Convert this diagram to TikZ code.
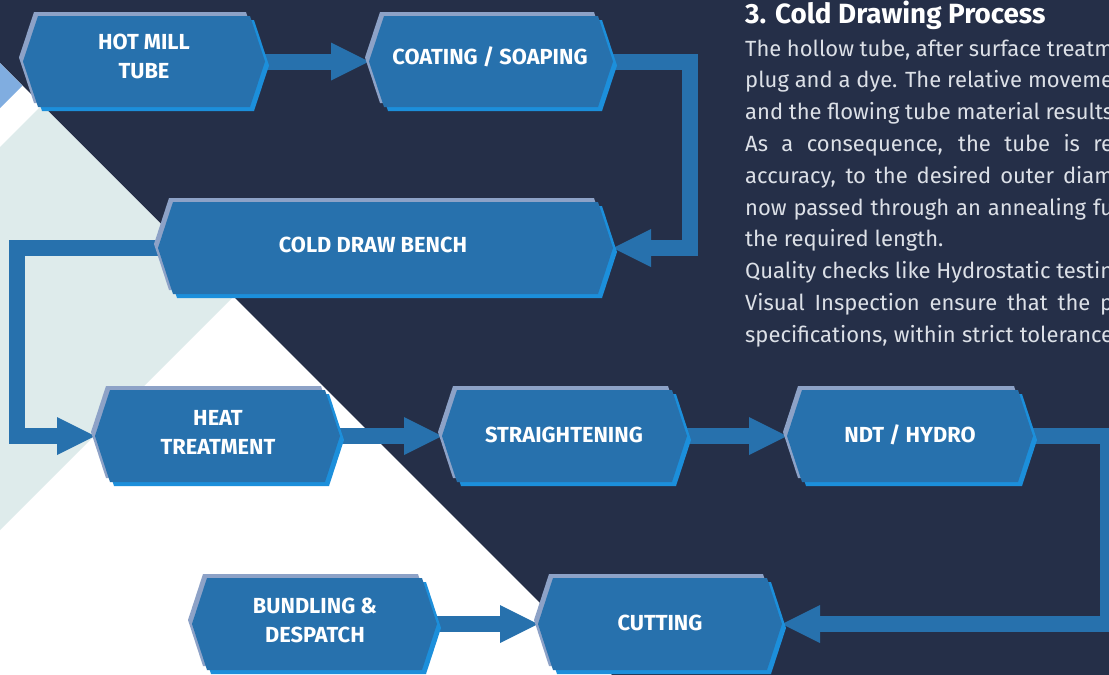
\documentclass[tikz,border=0pt]{standalone}
\usepackage{fontspec}
\setmainfont{Fira Sans}
\definecolor{bgdark}{HTML}{252F48}
\definecolor{boxfill}{HTML}{2771AD}
\definecolor{edgelight}{HTML}{8DA2C7}
\definecolor{edgebright}{HTML}{1C8FDB}
\definecolor{ggreen}{HTML}{DEEBEB}
\definecolor{lblue}{HTML}{80ADE0}
\definecolor{bodytext}{HTML}{DCE0E7}
\pgfdeclarelayer{back}
\pgfdeclarelayer{conn}
\pgfsetlayers{back,conn,main}
\newcommand\hexpath[4]{(#1,{(#3+#4)/2}) -- ({#1+15},#3) -- ({#2-15},#3) -- (#2,{(#3+#4)/2}) -- ({#2-15},#4) -- ({#1+15},#4) -- cycle}
\newcommand\hexbox[5]{%
  \fill[edgelight,shift={(-4,-4)}] \hexpath{#2}{#3}{#4}{#5};
  \fill[edgebright,shift={(4,4)}] \hexpath{#2}{#3}{#4}{#5};
  \fill[boxfill] \hexpath{#2}{#3}{#4}{#5};
  \node[hexspan, minimum width={#3-#2}, minimum height={#5-#4}] (#1) at ({(#2+#3)/2},{(#4+#5)/2}) {};
}
\tikzset{
  hexspan/.style={shape=rectangle, inner sep=0pt, outer sep=0pt, draw=none},
  lbl/.style={text=white, font=\fontsize{21.8}{29}\selectfont\bfseries, align=center, inner sep=0pt},
  lblone/.style={lbl, anchor=base},
  body/.style={anchor=base west, inner sep=0pt, text=bodytext, font=\fontsize{22}{32}\selectfont},
  shaft/.style={draw=boxfill, line width=16pt, line join=miter},
  headfill/.style={fill=boxfill}
}
\begin{document}
\begin{tikzpicture}[x=1pt,y=-1pt]
\useasboundingbox (0,0) rectangle (1109,675);
\clip (0,0) rectangle (1109,675);
% background
\begin{pgfonlayer}{back}
\fill[bgdark] (0,0) rectangle (1109,675);
\fill[white] (0,63) -- (612,675) -- (0,675) -- cycle;
\fill[lblue] (0,63) -- (22.5,85.5) -- (0,108) -- cycle;
\fill[ggreen] (0,147) -- (42,105) -- (233.5,296.5) -- (0,530) -- cycle;
\end{pgfonlayer}
% boxes
\hexbox{hot}{23}{265}{16}{107}
\hexbox{coat}{369}{613}{16}{107}
\hexbox{cold}{158}{613}{202}{294}
\hexbox{heat}{95}{340}{390}{482}
\hexbox{straight}{442}{687}{390}{482}
\hexbox{ndt}{787}{1033}{390}{482}
\hexbox{bund}{192}{437}{578}{670}
\hexbox{cut}{538}{782}{578}{670}
% labels
\node[lbl] (hot-t) at (144,56.5) {HOT MILL\\TUBE};
\node[lblone] (coat-t) at (490,64) {COATING / SOAPING};
\node[lblone] (cold-t) at (373,252) {COLD DRAW BENCH};
\node[lbl] (heat-t) at (218,432) {HEAT\\TREATMENT};
\node[lblone] (straight-t) at (564,442) {STRAIGHTENING};
\node[lblone] (ndt-t) at (910,442) {NDT / HYDRO};
\node[lbl] (bund-t) at (315,620) {BUNDLING \&\\DESPATCH};
\node[lblone] (cut-t) at (660,630) {CUTTING};
% connectors
\begin{pgfonlayer}{conn}
\draw[shaft] (hot.east) -- ([xshift=-38pt]coat.west);
\fill[headfill] (coat.west) -- ++(-38,-19) -- ++(0,38) -- cycle;
\draw[shaft] (coat.east) -- ++(77,0) |- ([xshift=38pt]cold.east);
\fill[headfill] (cold.east) -- ++(38,-19) -- ++(0,38) -- cycle;
\draw[shaft] (cold.west) -- ++(-141,0) |- ([xshift=-38pt]heat.west);
\fill[headfill] (heat.west) -- ++(-38,-19) -- ++(0,38) -- cycle;
\draw[shaft] (heat.east) -- ([xshift=-38pt]straight.west);
\fill[headfill] (straight.west) -- ++(-38,-19) -- ++(0,38) -- cycle;
\draw[shaft] (straight.east) -- ([xshift=-38pt]ndt.west);
\fill[headfill] (ndt.west) -- ++(-38,-19) -- ++(0,38) -- cycle;
\draw[shaft] (ndt.east) -- ++(75,0) |- ([xshift=38pt]cut.east);
\fill[headfill] (cut.east) -- ++(38,-19) -- ++(0,38) -- cycle;
\draw[shaft] (bund.east) -- ([xshift=-38pt]cut.west);
\fill[headfill] (cut.west) -- ++(-38,-19) -- ++(0,38) -- cycle;
\end{pgfonlayer}
% text
\node[anchor=base west, inner sep=0pt, text=white, font=\fontsize{27.8}{30}\selectfont\bfseries] (title) at (745,23) {3. Cold Drawing Process};
\node[body] (l1) at (745,56) {\makebox[368pt][s]{The hollow tube, after surface treatm}};
\node[body] (l2) at (745,87.8) {\makebox[368pt][s]{plug and a dye. The relative moveme}};
\node[body] (l3) at (745,119.6) {\makebox[368pt][s]{and the flowing tube material results}};
\node[body] (l4) at (745,151.4) {\makebox[368pt][s]{As a consequence, the tube is re}};
\node[body] (l5) at (745,183.2) {\makebox[368pt][s]{accuracy, to the desired outer diam}};
\node[body] (l6) at (745,215) {\makebox[368pt][s]{now passed through an annealing fu}};
\node[body] (l7) at (745,246.8) {the required length.};
\node[body] (l8) at (745,278.6) {\makebox[368pt][s]{Quality checks like Hydrostatic testin}};
\node[body] (l9) at (745,310.4) {\makebox[368pt][s]{Visual Inspection ensure that the p}};
\node[body] (l10) at (745,342.2) {\makebox[368pt][s]{specifications, within strict tolerance}};
\end{tikzpicture}
\end{document}
